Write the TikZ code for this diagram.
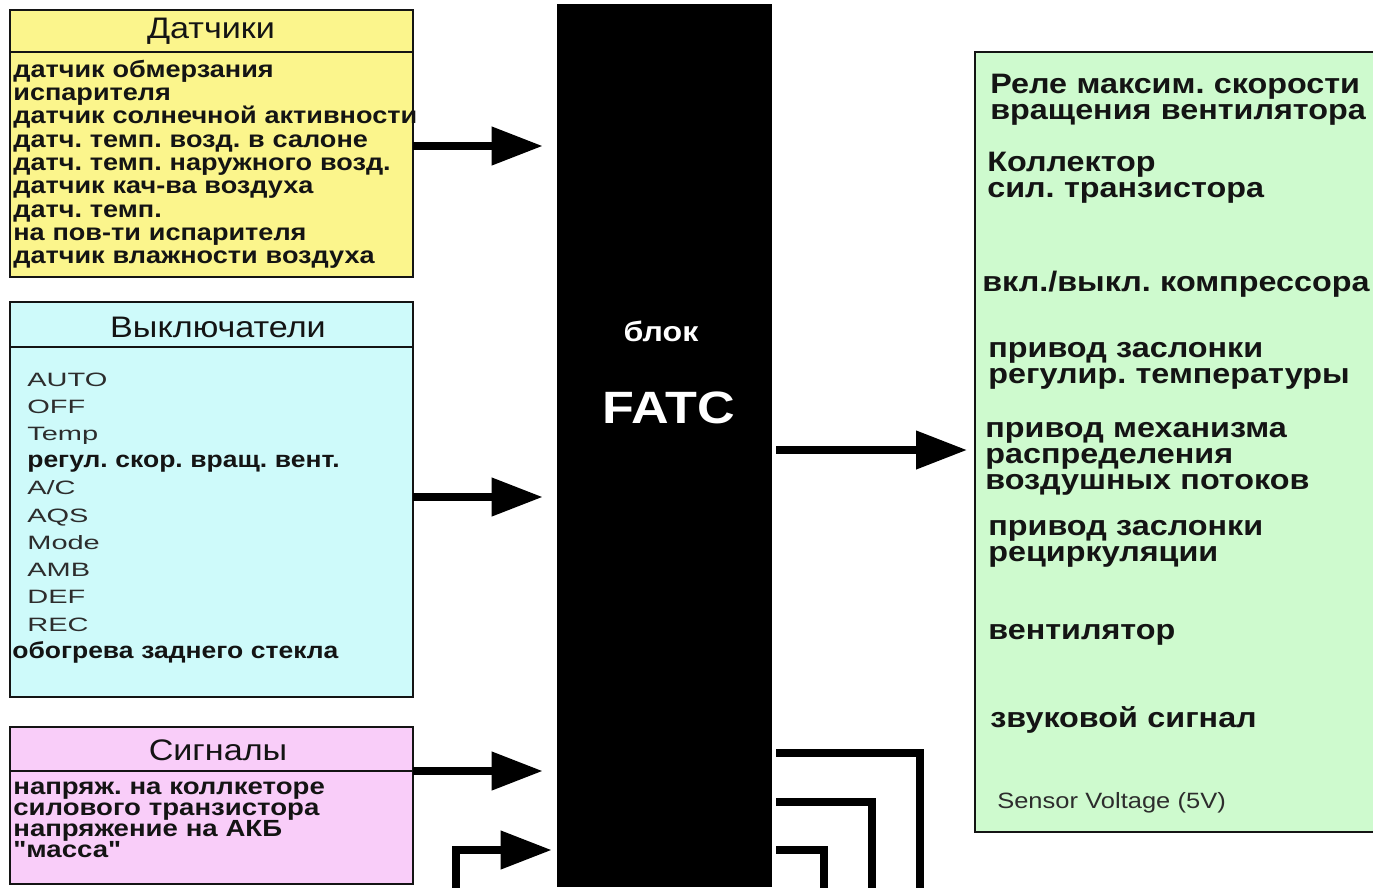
\documentclass[tikz,border=0pt]{standalone}
\usepackage{fontspec}
\setmainfont{Liberation Sans}[FakeStretch=1.15]
\newfontfamily\widelat{Liberation Sans}[FakeStretch=1.5]
\newfontfamily\qfont{Liberation Sans}[FakeStretch=1.18]
\usetikzlibrary{arrows.meta,fit,calc}
\definecolor{ylw}{RGB}{251,245,140}
\definecolor{cyn}{RGB}{206,250,250}
\definecolor{pnk}{RGB}{249,205,249}
\definecolor{grn}{RGB}{206,250,206}
\definecolor{ink}{RGB}{20,20,20}
\definecolor{latgray}{RGB}{45,45,45}
\newcommand\latitem{\widelat\mdseries\color{latgray}\fontsize{11}{15.5}\selectfont}
\frenchspacing
\begin{document}
\frenchspacing
\begin{tikzpicture}[x=0.02cm,y=-0.02cm,
  box/.style={draw=ink, line width=1.2pt, inner sep=0pt, outer sep=0pt},
  sep/.style={draw=ink, line width=1pt},
  title/.style={inner sep=0pt, text=ink, font=\fontsize{16.9}{18}\selectfont},
  list/.style={anchor=base west, inner sep=0pt, text width=10cm, align=left, text=ink},
  outitem/.style={list, font=\bfseries\fontsize{16}{14.9}\selectfont},
  arr/.style={line width=0.15cm, -{Triangle[length=1.02cm,width=0.74cm]}},
  wire/.style={line width=0.15cm, line join=miter}]
\useasboundingbox (0,0) rectangle (1373,887);

% input boxes
\node[box, fill=ylw, fit={(10,10)(413,277)}] (sensors) {};
\draw[sep] (sensors.west |- 0,52) -- (sensors.east |- 0,52);
\node[title] (sensorsT) at (211,31) {Датчики};
\node[list, font=\bfseries\fontsize{13.4}{13.3}\selectfont] (sensorsL) at (13,77)
  {датчик обмерзания\\испарителя\\датчик солнечной активности\\датч. темп. возд. в салоне\\датч. темп. наружного возд.\\датчик кач-ва воздуха\\датч. темп.\\на пов-ти испарителя\\датчик влажности воздуха};

\node[box, fill=cyn, fit={(10,302)(413,697)}] (switches) {};
\draw[sep] (switches.west |- 0,347) -- (switches.east |- 0,347);
\node[title] (switchesT) at (218,327) {Выключатели};
\node[list, font=\bfseries\fontsize{13.1}{15.5}\selectfont] (switchesL) at (27,386)
  {{\latitem AUTO}\\{\latitem OFF}\\{\latitem Temp}\\регул. скор. вращ. вент.\\{\latitem A/C}\\{\latitem AQS}\\{\latitem Mode}\\{\latitem AMB}\\{\latitem DEF}\\{\latitem REC}\\\hspace*{-0.3cm}обогрева заднего стекла};

\node[box, fill=pnk, fit={(10,727)(413,884)}] (signals) {};
\draw[sep] (signals.west |- 0,771) -- (signals.east |- 0,771);
\node[title] (signalsT) at (218,750) {Сигналы};
\node[list, font=\qfont\bfseries\fontsize{13.3}{12.1}\selectfont] (signalsL) at (13,794)
  {напряж. на коллкеторе\\силового транзистора\\напряжение на АКБ\\"масса"};

% control unit
\node[fill=black, inner sep=0pt, fit={(557,4)(772,887)}] (fatc) {};
\node[text=white, inner sep=0pt, font=\bfseries\fontsize{15.9}{18}\selectfont] (blok) at (661,331) {блок};
\node[text=white, inner sep=0pt, font=\bfseries\fontsize{25.8}{28}\selectfont] (fatcT) at (669,408) {FATC};

% output box
\node[box, fill=grn, fit={(975,52)(1390,832)}] (act) {};
\node[outitem] (o1) at (990,93) {Реле максим. скорости\\вращения вентилятора};
\node[outitem] (o2) at (987,171) {Коллектор\\сил. транзистора};
\node[outitem] (o3) at (982,291) {вкл./выкл. компрессора};
\node[outitem] (o4) at (988,357) {привод заслонки\\регулир. температуры};
\node[outitem] (o5) at (985,437) {привод механизма\\распределения\\воздушных потоков};
\node[outitem] (o6) at (988,535) {привод заслонки\\рециркуляции};
\node[outitem] (o7) at (988,639) {вентилятор};
\node[outitem] (o8) at (990,727) {звуковой сигнал};
\node[list, font=\fontsize{12.6}{14}\selectfont, text=latgray] (o9) at (997,808) {Sensor Voltage (5V)};

% connectors
\coordinate (y1) at (0,146);
\coordinate (y2) at (0,497);
\coordinate (y3) at (0,771);
\coordinate (y4) at (0,850);
\coordinate (y5) at (0,450);
\coordinate (g) at (456,890);
\draw[arr, shorten >=0.28cm] (sensors.east |- y1) -- (fatc.west |- y1);
\draw[arr, shorten >=0.28cm] (switches.east |- y2) -- (fatc.west |- y2);
\draw[arr, shorten >=0.28cm] (signals.east |- y3) -- (fatc.west |- y3);
\draw[arr, shorten >=0.1cm] (g) |- (fatc.west |- y4);
\draw[arr, shorten <=0.08cm, shorten >=0.16cm] (fatc.east |- y5) -- (act.west |- y5);

\coordinate (w1) at (920,890);
\coordinate (w2) at (872,890);
\coordinate (w3) at (824,890);
\draw[wire, shorten <=0.08cm] (fatc.east |- 0,753) -| (w1);
\draw[wire, shorten <=0.08cm] (fatc.east |- 0,802) -| (w2);
\draw[wire, shorten <=0.08cm] (fatc.east |- 0,850) -| (w3);
\end{tikzpicture}
\end{document}
